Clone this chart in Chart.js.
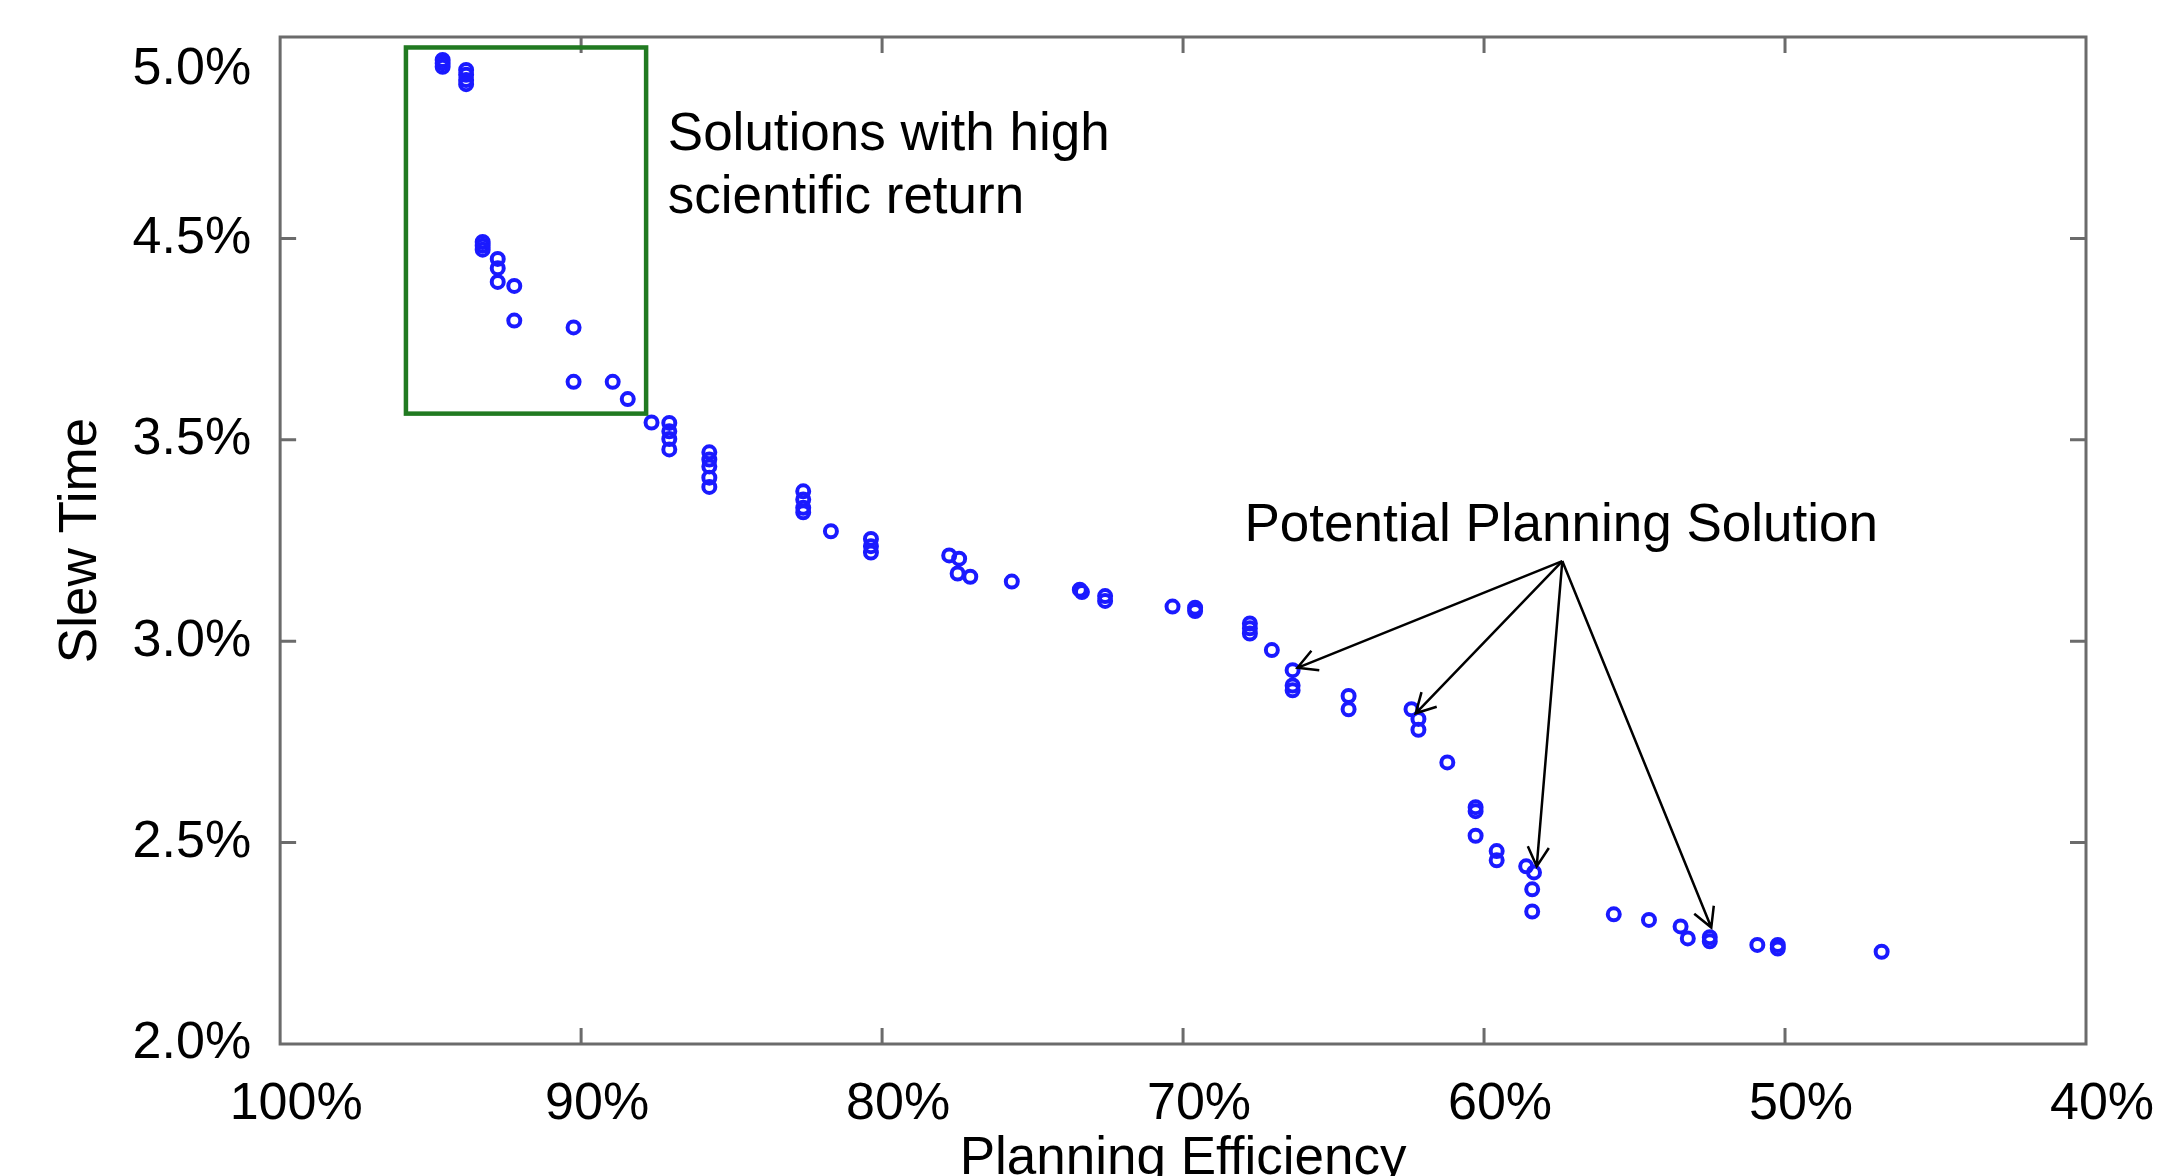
<!DOCTYPE html>
<html><head><meta charset="utf-8">
<script src="https://cdn.jsdelivr.net/npm/chart.js@4.4.1/dist/chart.umd.min.js"></script>
<style>
html,body{margin:0;padding:0;background:#fff;overflow:hidden;}
#wrap{position:relative;width:2179px;height:1186px;}
</style></head><body>
<div id="wrap"><canvas id="c"></canvas></div>
<script>
// ---- data (x: planning efficiency in %, y: slew time in axis units) ----
const planningEfficiency = [
  94.60, 94.60, 94.60, 93.82, 93.82, 93.82, 93.82, 93.27, 93.27, 93.27,
  92.77, 92.77, 92.77, 92.22, 92.22, 90.25, 90.25, 88.95, 88.45, 87.66,
  87.07, 87.07, 87.07, 87.07, 85.74, 85.74, 85.74, 85.74, 85.74, 82.62,
  82.62, 82.62, 82.62, 81.70, 80.37, 80.37, 80.37, 77.77, 77.44, 77.49,
  77.07, 75.69, 73.43, 73.36, 72.59, 72.59, 70.35, 69.60, 69.60, 67.78,
  67.78, 67.78, 67.05, 66.36, 66.36, 66.36, 64.50, 64.50, 62.41, 62.18,
  62.18, 61.22, 60.28, 60.28, 60.28, 59.58, 59.58, 58.60, 58.34, 58.40,
  58.40, 55.69, 54.52, 53.47, 53.23, 52.50, 52.50, 50.92, 50.24, 50.24,
  46.79
];
const slewTime = [
  4.443, 4.435, 4.426, 4.418, 4.406, 4.393, 4.383, 3.991, 3.982, 3.972,
  3.949, 3.926, 3.892, 3.882, 3.796, 3.779, 3.644, 3.644, 3.601, 3.543,
  3.542, 3.521, 3.502, 3.476, 3.469, 3.451, 3.434, 3.406, 3.383, 3.372,
  3.352, 3.331, 3.320, 3.273, 3.254, 3.236, 3.220, 3.213, 3.205, 3.168,
  3.160, 3.148, 3.128, 3.122, 3.112, 3.100, 3.086, 3.083, 3.075, 3.044,
  3.032, 3.019, 2.978, 2.928, 2.890, 2.878, 2.864, 2.831, 2.831, 2.807,
  2.780, 2.699, 2.588, 2.578, 2.517, 2.479, 2.456, 2.441, 2.426, 2.384,
  2.329, 2.322, 2.308, 2.292, 2.262, 2.265, 2.255, 2.246, 2.246, 2.237,
  2.229
];
const xTickValues = [40, 50, 60, 70, 80, 90, 100];
const xTickLabels = ['40%', '50%', '60%', '70%', '80%', '90%', '100%'];
const yTickValues = [2.0, 2.5, 3.0, 3.5, 4.0, 4.5];
const yTickLabels = ['2.0%', '2.5%', '3.0%', '3.5%', '4.5%', '5.0%'];

// annotations (in data units)
const boxCornersX = [95.82, 87.84];
const boxCornersY = [4.474, 3.565];
const boxLabelLines = ['Solutions with high', 'scientific return'];
const boxLabelX = 87.12;
const boxLabelBaselinesY = [4.220, 4.064];
const arrowLabel = 'Potential Planning Solution';
const arrowLabelX = 67.96;
const arrowLabelBaselineY = 3.248;
const arrowFrom = [57.40, 3.199];
const arrowToX = [66.20, 62.27, 58.25, 52.45];
const arrowToY = [2.934, 2.821, 2.441, 2.289];

const points = planningEfficiency.map((v, i) => ({x: v, y: slewTime[i]}));
const FONT = '"Liberation Sans", Arial, Helvetica, sans-serif';

function labelFor(values, labels, v) {
  const i = values.findIndex(t => Math.abs(t - v) < 1e-6);
  return i < 0 ? '' : labels[i];
}

const overlay = {
  id: 'overlay',
  afterDatasetsDraw(chart) {
    const {ctx, chartArea: a, scales: {x, y}} = chart;
    ctx.save();
    // frame
    ctx.strokeStyle = '#6b6b6b';
    ctx.lineWidth = 3;
    ctx.strokeRect(a.left, a.top, a.right - a.left, a.bottom - a.top);
    // inward ticks (MATLAB style)
    const tl = 16;
    ctx.beginPath();
    x.ticks.forEach(t => {
      const px = x.getPixelForValue(t.value);
      if (px > a.left + 3 && px < a.right - 3) {
        ctx.moveTo(px, a.bottom); ctx.lineTo(px, a.bottom - tl);
        ctx.moveTo(px, a.top); ctx.lineTo(px, a.top + tl);
      }
    });
    y.ticks.forEach(t => {
      const py = y.getPixelForValue(t.value);
      if (py > a.top + 3 && py < a.bottom - 3) {
        ctx.moveTo(a.left, py); ctx.lineTo(a.left + tl, py);
        ctx.moveTo(a.right, py); ctx.lineTo(a.right - tl, py);
      }
    });
    ctx.stroke();

    // green box
    const bx1 = x.getPixelForValue(boxCornersX[0]);
    const bx2 = x.getPixelForValue(boxCornersX[1]);
    const by1 = y.getPixelForValue(boxCornersY[0]);
    const by2 = y.getPixelForValue(boxCornersY[1]);
    ctx.strokeStyle = '#217a21';
    ctx.lineWidth = 4.5;
    ctx.strokeRect(Math.min(bx1, bx2), Math.min(by1, by2), Math.abs(bx2 - bx1), Math.abs(by2 - by1));

    // arrows
    ctx.strokeStyle = '#000';
    ctx.lineWidth = 2.5;
    const fx = x.getPixelForValue(arrowFrom[0]);
    const fy = y.getPixelForValue(arrowFrom[1]);
    arrowToX.forEach((tx, i) => {
      const px = x.getPixelForValue(tx);
      const py = y.getPixelForValue(arrowToY[i]);
      ctx.beginPath();
      ctx.moveTo(fx, fy); ctx.lineTo(px, py);
      const ang = Math.atan2(py - fy, px - fx);
      const hl = 22, ha = 0.5;
      ctx.moveTo(px - hl * Math.cos(ang - ha), py - hl * Math.sin(ang - ha));
      ctx.lineTo(px, py);
      ctx.lineTo(px - hl * Math.cos(ang + ha), py - hl * Math.sin(ang + ha));
      ctx.stroke();
    });

    // text annotations
    ctx.fillStyle = '#000';
    ctx.font = '53px ' + FONT;
    ctx.textAlign = 'left';
    ctx.textBaseline = 'alphabetic';
    boxLabelLines.forEach((s, i) => {
      ctx.fillText(s, x.getPixelForValue(boxLabelX), y.getPixelForValue(boxLabelBaselinesY[i]));
    });
    ctx.fillText(arrowLabel, x.getPixelForValue(arrowLabelX), y.getPixelForValue(arrowLabelBaselineY));
    ctx.restore();
  }
};

new Chart(document.getElementById('c'), {
  type: 'scatter',
  data: {
    datasets: [{
      data: points,
      pointStyle: 'circle',
      pointRadius: 6,
      pointHoverRadius: 6,
      borderWidth: 4,
      borderColor: '#1a1aff',
      backgroundColor: 'rgba(0,0,0,0)'
    }]
  },
  options: {
    responsive: true,
    maintainAspectRatio: false,
    animation: false,
    devicePixelRatio: 1,
    layout: {padding: {left: 20, top: 37, right: 93, bottom: 0}},
    plugins: {legend: {display: false}, tooltip: {enabled: false}},
    scales: {
      x: {
        type: 'linear',
        reverse: true,
        min: 40, max: 100,
        grid: {display: false, drawTicks: false},
        border: {display: false},
        afterFit: (scale) => { scale.paddingLeft = 0; scale.paddingRight = 0; },
        ticks: {
          stepSize: 10,
          padding: 35,
          labelOffset: 16,
          color: '#000',
          maxRotation: 0,
          font: {family: FONT, size: 52, lineHeight: 1.0},
          callback: (v) => labelFor(xTickValues, xTickLabels, v)
        },
        title: {
          display: true,
          text: 'Planning Efficiency',
          color: '#000',
          font: {family: FONT, size: 53, lineHeight: 1.0},
          padding: {top: -33, bottom: 0}
        }
      },
      y: {
        type: 'linear',
        min: 2.0, max: 4.5,
        grid: {display: false, drawTicks: false},
        border: {display: false},
        afterFit: (scale) => { scale.paddingTop = 0; scale.paddingBottom = 0; },
        ticks: {
          stepSize: 0.5,
          padding: 29,
          color: '#000',
          font: {family: FONT, size: 52, lineHeight: 1.25},
          callback: (v, i, arr) => {
            const s = labelFor(yTickValues, yTickLabels, v);
            return i === arr.length - 1 ? ['', s] : s;
          }
        },
        title: {
          display: true,
          text: 'Slew Time',
          color: '#000',
          font: {family: FONT, size: 53, lineHeight: 1.2},
          padding: {top: 30, bottom: -10}
        }
      }
    }
  },
  plugins: [overlay]
});
</script>
</body></html>
